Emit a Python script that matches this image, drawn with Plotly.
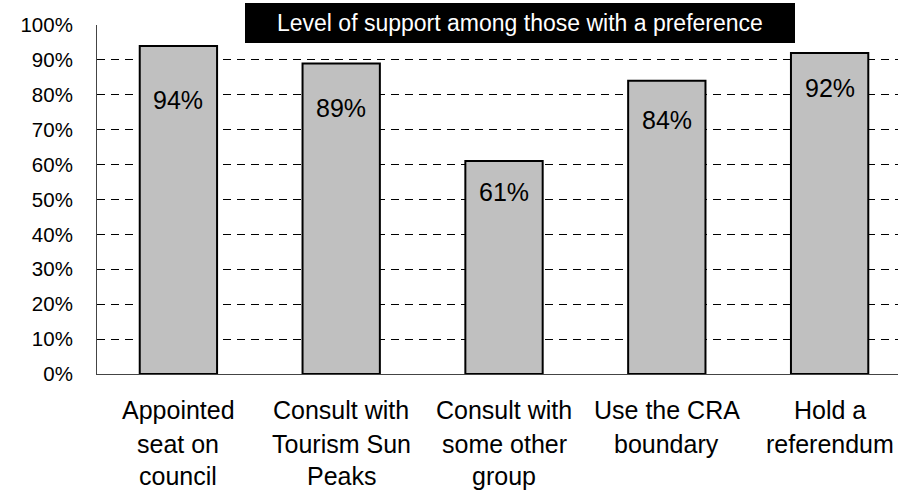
import plotly.graph_objects as go

categories = ["Appointed<br>seat on<br>council", "Consult with<br>Tourism Sun<br>Peaks",
              "Consult with<br>some other<br>group", "Use the CRA<br>boundary", "Hold a<br>referendum"]
values = [94, 89, 61, 84, 92]
value_labels = ["94%", "89%", "61%", "84%", "92%"]
label_y = [78.5, 76.2, 52.1, 72.8, 82.0]
y_ticks = [0, 10, 20, 30, 40, 50, 60, 70, 80, 90, 100]
y_tick_text = [f"{v}%" for v in y_ticks]
title_text = "Level of support among those with a preference"

FONT = "Liberation Sans, Arial, sans-serif"
xs = list(range(len(categories)))

# plot area in screen pixels
PL, PR, PT, PB = 97, 898, 25, 374
PW, PH = PR - PL, PB - PT

def px_x(x):
    return (x - PL) / PW

def px_y(y):
    return (PB - y) / PH

fig = go.Figure()
fig.add_trace(go.Bar(
    x=xs, y=values, width=0.475,
    marker=dict(color="#c0c0c0", line=dict(color="black", width=2)),
    hoverinfo="skip",
))

ann = []
for i, (ly, t) in enumerate(zip(label_y, value_labels)):
    ann.append(dict(x=i, y=ly, xref="x", yref="y", text=t, showarrow=False,
                    yanchor="middle",
                    font=dict(family=FONT, size=25, color="black")))
line_centres = [410, 443.5, 476]
for i, c in enumerate(categories):
    for j, line in enumerate(c.split("<br>")):
        ann.append(dict(x=i, y=px_y(line_centres[j]), xref="x", yref="paper", text=line,
                        showarrow=False, yanchor="middle",
                        font=dict(family=FONT, size=25, color="black")))
ann.append(dict(x=px_x(519.5), y=px_y(23), xref="paper", yref="paper", text=title_text,
                showarrow=False, xanchor="center", yanchor="middle",
                font=dict(family=FONT, size=23, color="white")))

fig.update_layout(
    width=901, height=490,
    margin=dict(l=PL, r=901 - PR, t=PT, b=490 - PB),
    paper_bgcolor="white", plot_bgcolor="white",
    showlegend=False,
    annotations=ann,
    xaxis=dict(range=[-0.5, 4.42], showticklabels=False, showgrid=False, zeroline=False,
               showline=True, linecolor="#444", linewidth=1, ticks="", fixedrange=True),
    yaxis=dict(range=[0, 100], tickvals=y_ticks, ticktext=y_tick_text,
               showgrid=True, gridcolor="black", gridwidth=1, griddash="8px,6px",
               zeroline=False, showline=True, linecolor="#444", linewidth=1,
               ticks="", ticklabelstandoff=19,
               tickfont=dict(family=FONT, size=20.5, color="black"), fixedrange=True),
)
fig.add_shape(type="rect", xref="paper", yref="paper",
              x0=px_x(245), x1=px_x(795), y0=px_y(43), y1=px_y(3),
              fillcolor="black", line=dict(width=0), layer="above")
fig.write_html("out.html", config={"displayModeBar": False, "staticPlot": True},
               post_script="document.body.style.margin='0';document.body.style.overflow='hidden';")
